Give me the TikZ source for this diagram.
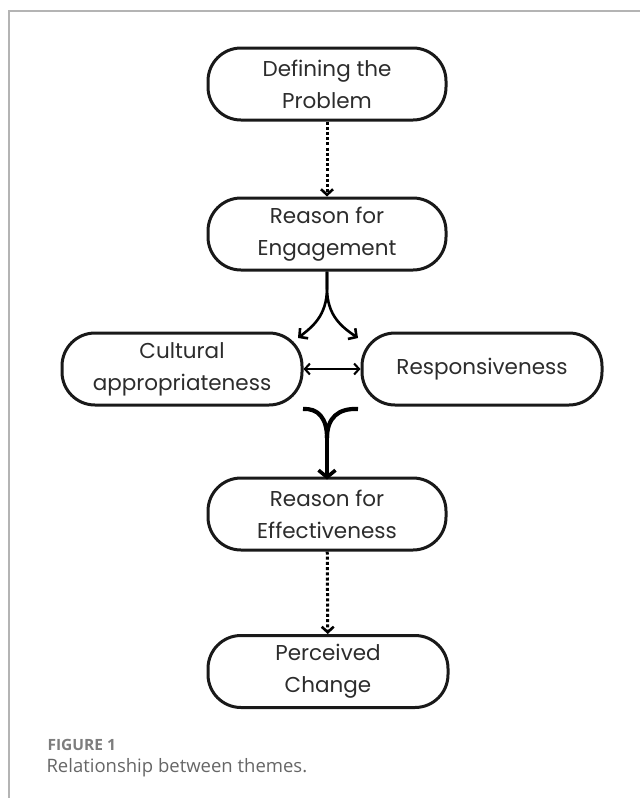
\documentclass[tikz,border=0pt]{standalone}
\usepackage{fontspec}
\setmainfont{Poppins}
\newfontfamily\capfont{Open Sans}
\usetikzlibrary{positioning,arrows.meta}
\definecolor{txtgray}{HTML}{2C2C2C}
\definecolor{framegray}{HTML}{B4B4B4}
\definecolor{capgray}{HTML}{666666}
\tikzset{
  themebox/.style={draw=black!90, line width=3pt, rounded corners=33pt,
    minimum height=72pt, minimum width=238pt, align=center, text=txtgray,
    font=\fontsize{21.5}{32}\selectfont, inner sep=0pt},
  dotarrow/.style={line width=3pt, dash pattern=on 3pt off 2.2pt,
    -{Straight Barb[length=5.5pt,width=12pt,line width=2.6pt]}},
  duoarrow/.style={line width=2.1pt,
    {Straight Barb[length=5pt,width=11pt]}-{Straight Barb[length=5pt,width=11pt]}},
  splitarrow/.style={line width=2.6pt, -{Straight Barb[length=6pt,width=13pt]}},
  mergeline/.style={line width=4.2pt},
  mergearrow/.style={line width=4.2pt, -{Straight Barb[length=7pt,width=17pt,line width=3.6pt]}}
}
\begin{document}
\begin{tikzpicture}[x=1pt,y=-1pt]
\useasboundingbox (0,0) rectangle (640,798);
\draw[framegray, line width=1.5pt] (9,798) -- (9,11) -- (640,11);

\node[themebox] (def) at (327,84) {Defining the\\Problem};
\node[themebox] (eng) at (327,234) {Reason for\\Engagement};
\node[themebox, minimum width=240pt] (cul) at (182,369) {Cultural\\appropriateness};
\node[themebox, minimum width=240pt] (res) at (482,369) {Responsiveness};
\node[themebox] (eff) at (327,514) {Reason for\\Effectiveness};
\node[themebox, minimum width=240pt] (per) at (328,671.5) {Perceived\\Change};

\node[anchor=west, text=capgray!85, font=\capfont\bfseries\fontsize{15.5}{18}\selectfont] (fignum) at (44,745) {FIGURE 1};
\node[anchor=west, text=capgray, font=\capfont\fontsize{18.5}{22}\selectfont] (figcap) at (43,768) {Relationship between themes.};

\coordinate (engfork) at (327,288);
\coordinate (culin) at (298,338);
\coordinate (resin) at (358,338);
\coordinate (culout) at (303,409);
\coordinate (resout) at (358,409);
\coordinate (effjoin) at (327,438);

\draw[dotarrow] (def) -- (eng);
\draw[splitarrow] (eng.south) -- (engfork) .. controls (327,316) and (312,327) .. (culin);
\draw[splitarrow] (eng.south) -- (engfork) .. controls (327,316) and (342,327) .. (resin);
\draw[duoarrow] (cul) -- (res);
\draw[mergeline] (culout) .. controls (318,408) and (327,418) .. (effjoin);
\draw[mergeline] (resout) .. controls (338,408) and (327,418) .. (effjoin);
\draw[mergearrow] (effjoin) -- ([yshift=-3pt]eff.north);
\draw[dotarrow] (eff) -- (per);
\end{tikzpicture}
\end{document}
